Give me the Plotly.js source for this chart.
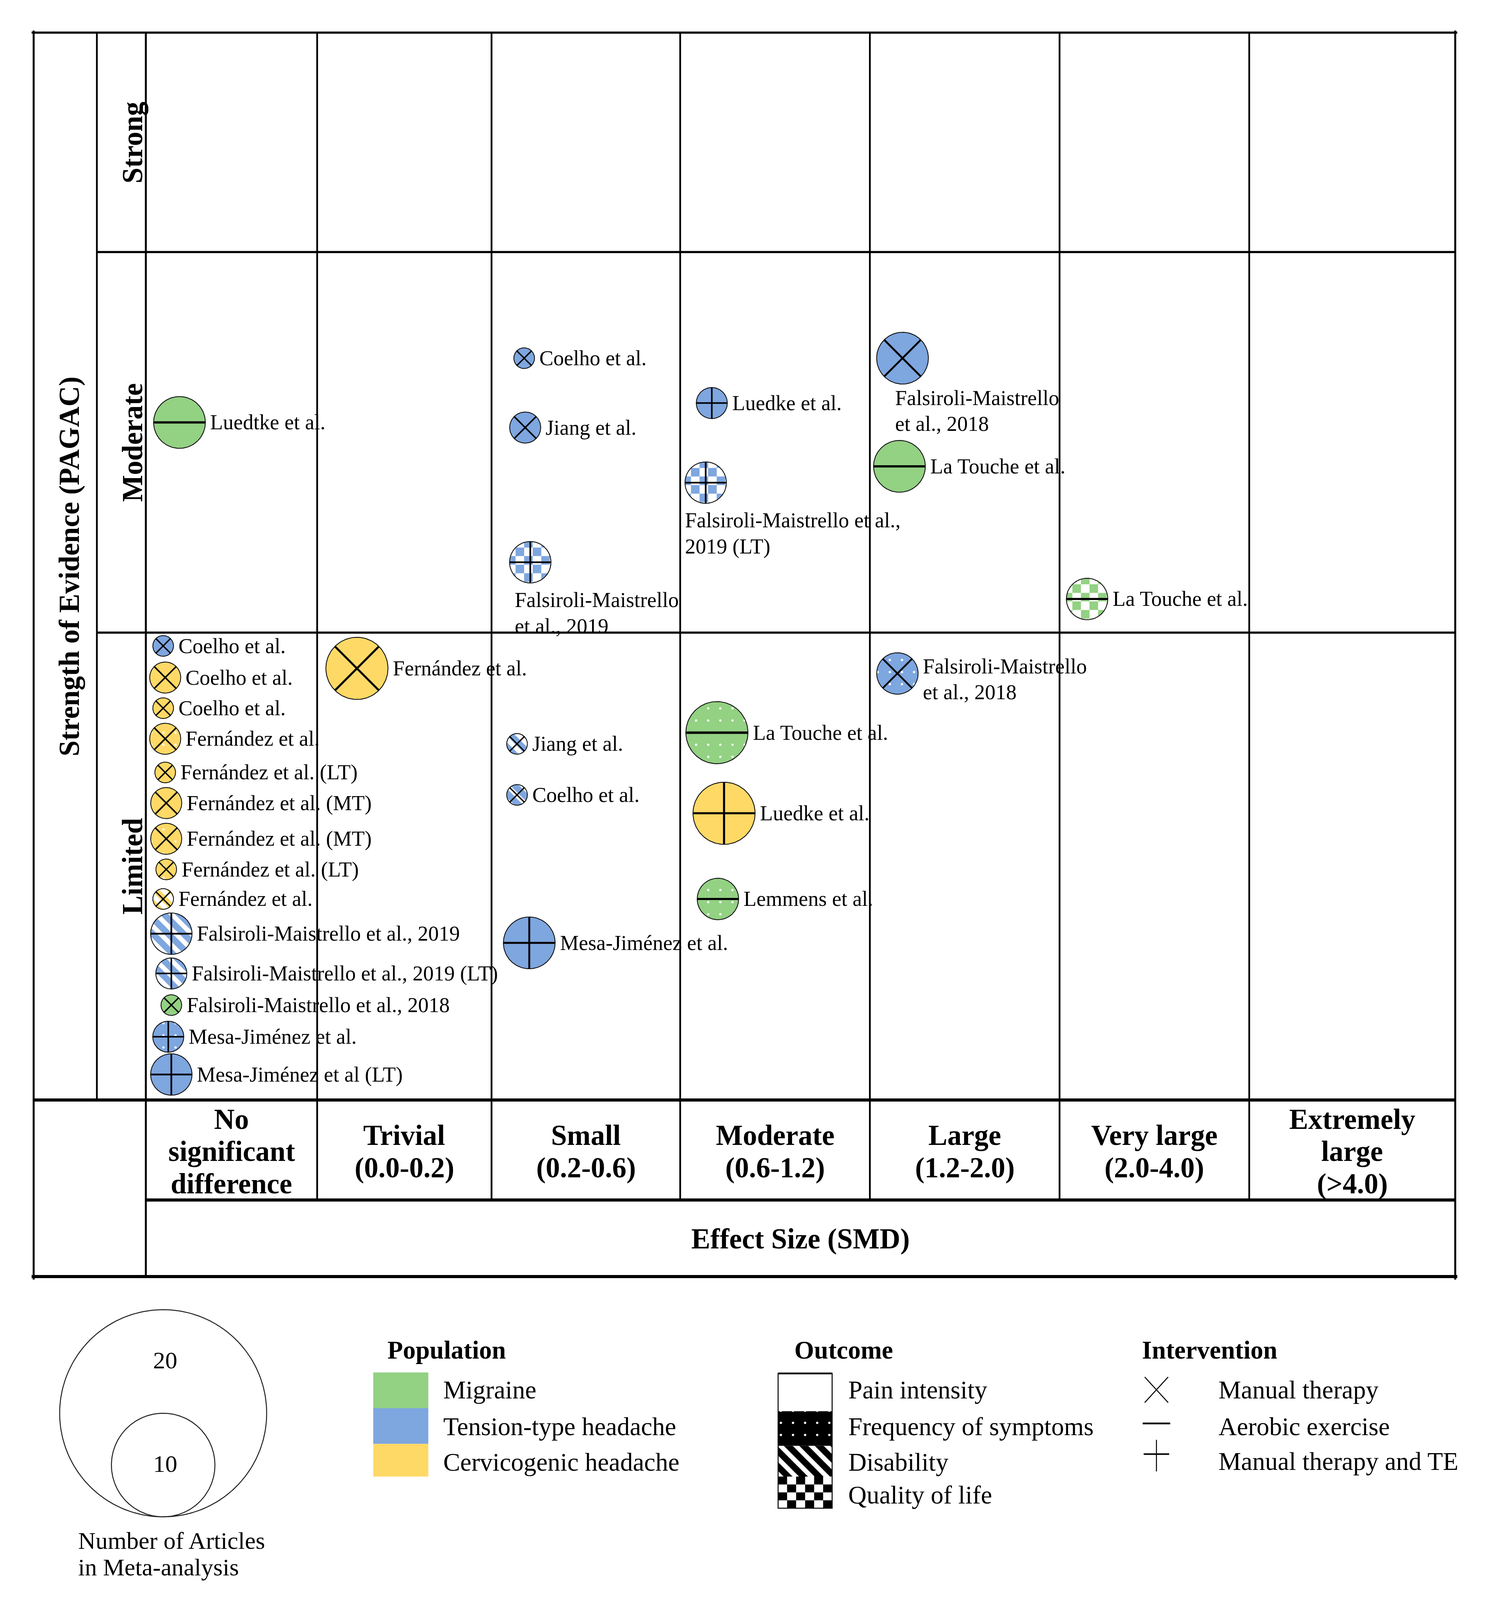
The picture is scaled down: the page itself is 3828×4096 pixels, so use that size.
<!DOCTYPE html>
<html><head><meta charset="utf-8">
<script src="https://cdn.plot.ly/plotly-3.0.1.min.js"></script>
<style>html,body{margin:0;padding:0;background:#fff;}#chart{width:3828px;height:4096px;}</style>
</head><body><div id="chart"></div>
<script>
// ================= DATA =================
const effectTickLabels = ['No\nsignificant\ndifference','Trivial\n(0.0-0.2)','Small\n(0.2-0.6)','Moderate\n(0.6-1.2)','Large\n(1.2-2.0)','Very large\n(2.0-4.0)','Extremely\nlarge\n(>4.0)'];
const evidenceLevels = ['Strong','Moderate','Limited'];
const populations = ['Migraine','Tension-type headache','Cervicogenic headache'];
const outcomes = ['Pain intensity','Frequency of symptoms','Disability','Quality of life'];
const interventions = ['Manual therapy','Aerobic exercise','Manual therapy and TE'];
const sizeLegendValues = [20, 10];

const studyNames = [
  'Luedtke et al.','Coelho et al.','Jiang et al.','Falsiroli-Maistrello\net al., 2019','Luedke et al.',
  'Falsiroli-Maistrello et al.,\n2019 (LT)','Falsiroli-Maistrello\net al., 2018','La Touche et al.','La Touche et al.',
  'Coelho et al.','Coelho et al.','Coelho et al.','Fernández et al.','Fernández et al. (LT)','Fernández et al. (MT)',
  'Fernández et al. (MT)','Fernández et al. (LT)','Fernández et al.','Falsiroli-Maistrello et al., 2019',
  'Falsiroli-Maistrello et al., 2019 (LT)','Falsiroli-Maistrello et al., 2018','Mesa-Jiménez et al.','Mesa-Jiménez et al (LT)',
  'Fernández et al.','Jiang et al.','Coelho et al.','Mesa-Jiménez et al.','La Touche et al.','Luedke et al.','Lemmens et al.',
  'Falsiroli-Maistrello\net al., 2018'
];
// index into effectTickLabels
const studyEffect = [0,2,2,2,3,3,4,4,5, 0,0,0,0,0,0,0,0,0,0,0,0,0,0, 1, 2,2,2, 3,3,3, 4];
const studyEvidence = ['Moderate','Moderate','Moderate','Moderate','Moderate','Moderate','Moderate','Moderate','Moderate',
  'Limited','Limited','Limited','Limited','Limited','Limited','Limited','Limited','Limited','Limited','Limited','Limited','Limited','Limited',
  'Limited','Limited','Limited','Limited','Limited','Limited','Limited','Limited'];
const studyArticles = [5,2,3,4,3,4,5,5,4, 2,3,2,3,2,3,3,2,2,4,3,2,3,4, 6, 2,2,5, 6,6,4, 4];
// 0 Migraine, 1 Tension-type, 2 Cervicogenic
const studyPopulation = [0,1,1,1,1,1,1,0,0, 1,2,2,2,2,2,2,2,2,1,1,0,1,1, 2, 1,1,1, 0,2,0, 1];
// 0 Pain, 1 Frequency, 2 Disability, 3 Quality of life
const studyOutcome = [0,0,0,3,0,3,0,0,3, 0,0,1,1,0,0,1,1,2,2,2,0,1,0, 0, 2,2,0, 1,0,1, 1];
// 0 Manual therapy, 1 Aerobic exercise, 2 Manual therapy and TE
const studyIntervention = [1,0,0,2,2,2,0,1,1, 0,0,0,0,0,0,0,0,0,2,2,0,2,2, 0, 0,0,2, 1,2,1, 0];

// ================= LAYOUT (diagram geometry, in 1466x1568 units) =================
const colEdges = [143,311,482,667,853,1039,1225,1427];
const rowEdges = [32,247,620,1078];
const placeDx = [33,32,33,38,31,25,32,29,27, 17,19,17,19,19,20,20,20,17,25,25,25,22,25, 39, 25,25,37, 36,43,37, 27];
const placeDy = [167,104,172,304,148,226,104,210,340, 13,44,74,104,137,167,202,232,261,295,334,365,396,433, 35, 109,159,304, 98,177,261, 40];
const labelOffset = {3:[-16,37], 5:[-21,37], 6:[-8,39], 30:[24,-7]};

const popColors = ['#93D183','#7EA6DF','#FFD966'];
const FONT = 'Liberation Serif, Times New Roman, serif';
const K = 10.15;               // diameter per article
const radius = n => K*n/2;
const CELL = 8.4;              // checker cell

const traces = [], shapes = [], annotations = [];

function circle(cx, cy, r, N){ N=N||120; const xs=[],ys=[]; for(let i=0;i<=N;i++){const a=2*Math.PI*i/N; xs.push(cx+r*Math.cos(a)); ys.push(cy+r*Math.sin(a));} return {x:xs,y:ys}; }
function text(t, x, y, size, o){ o=o||{}; annotations.push({x, y, xref:'x', yref:'y', text:t, showarrow:false,
  xanchor:o.xanchor||'left', yanchor:'middle', textangle:o.angle||0, font:{family:FONT, size, color:'#000', weight:o.bold?700:400}}); }
function lines(t, x, y, size, gap, o){ t.split('\n').forEach((s,k)=>text(s, x, y+k*gap, size, o)); }
function pattern(oi, bg, fg){
  if(oi===1) return {shape:'.', bgcolor:bg, fgcolor:fg, size:31, solidity:0.028, fillmode:'replace'};
  if(oi===2) return {shape:'\\', bgcolor:bg, fgcolor:fg, size:28, solidity:0.42, fillmode:'replace'};
  return undefined;
}
function checkerCells(x0, y0, nx, ny, cw, ch){
  const xs=[], ys=[];
  for(let i=0;i<nx;i++) for(let j=0;j<ny;j++){ if((i+j)%2) continue;
    const a=x0+i*cw, b=y0+j*ch; xs.push(a,a+cw,a+cw,a,a,null); ys.push(b,b,b+ch,b+ch,b,null); }
  return {x:xs, y:ys};
}
function fillTrace(pts, color, pat, lw){
  const t = {type:'scatter', mode:'lines', x:pts.x, y:pts.y, fill:'toself', fillcolor:color,
    line:{color:'#111', width:lw||0}, hoverinfo:'skip'};
  if(pat) t.fillpattern = pat;
  traces.push(t);
}

// bubble geometry
const bub = studyNames.map((n,i)=>({
  cx: colEdges[studyEffect[i]] + placeDx[i],
  cy: rowEdges[evidenceLevels.indexOf(studyEvidence[i])] + placeDy[i],
  r: radius(studyArticles[i])
}));

// Phase 1: checker (quality of life) bubbles
bub.forEach((b,i)=>{
  if(studyOutcome[i]!==3) return;
  fillTrace(circle(b.cx,b.cy,b.r), '#ffffff');
  const n = Math.ceil(2*b.r/CELL)+1;
  fillTrace(checkerCells(b.cx-b.r-CELL*0.3, b.cy-b.r-CELL*0.3, n, n, CELL, CELL), popColors[studyPopulation[i]]);
  // white mask ring
  const R2 = b.r + CELL*1.6, xs=[], ys=[];
  xs.push(b.cx+R2,b.cx+R2,b.cx-R2,b.cx-R2,b.cx+R2,b.cx+R2); ys.push(b.cy,b.cy+R2,b.cy+R2,b.cy-R2,b.cy-R2,b.cy);
  for(let k=0;k<=120;k++){const a=-2*Math.PI*k/120; xs.push(b.cx+b.r*Math.cos(a)); ys.push(b.cy+b.r*Math.sin(a));}
  xs.push(b.cx+R2); ys.push(b.cy);
  fillTrace({x:xs,y:ys}, '#ffffff');
});

// Phase 2: all bubbles
bub.forEach((b,i)=>{
  const col = popColors[studyPopulation[i]], oi = studyOutcome[i], pts = circle(b.cx,b.cy,b.r);
  if(oi===3){
    traces.push({type:'scatter', mode:'lines', x:pts.x, y:pts.y, line:{color:'#111', width:2.2}, hoverinfo:'skip'});
  } else {
    fillTrace(pts, col, pattern(oi, col, '#ffffff'), 2.2);
  }
  const iv = studyIntervention[i], n = studyArticles[i];
  let lx, ly, w;
  if(iv===0){ const d=b.r/Math.SQRT2; lx=[b.cx-d,b.cx+d,null,b.cx-d,b.cx+d]; ly=[b.cy-d,b.cy+d,null,b.cy+d,b.cy-d]; w=2.6+0.45*n; }
  else if(iv===1){ lx=[b.cx-b.r,b.cx+b.r]; ly=[b.cy,b.cy]; w=4+0.35*n; }
  else { lx=[b.cx-b.r,b.cx+b.r,null,b.cx,b.cx]; ly=[b.cy,b.cy,null,b.cy-b.r,b.cy+b.r]; w=2.6+0.45*n; }
  traces.push({type:'scatter', mode:'lines', x:lx, y:ly, line:{color:'#000', width:w}, hoverinfo:'skip'});
  // label
  const off = labelOffset[i];
  if(off) lines(studyNames[i], b.cx+off[0], b.cy+off[1], 54, 25.5);
  else text(studyNames[i], b.cx+b.r+4, b.cy, 54);
});

// ================= GRID =================
function hl(y,x0,x1,w){ shapes.push({type:'line',xref:'x',yref:'y',x0,x1,y0:y,y1:y,line:{color:'#000',width:w}}); }
function vl(x,y0,y1,w){ shapes.push({type:'line',xref:'x',yref:'y',x0:x,x1:x,y0,y1,line:{color:'#000',width:w}}); }
hl(32,31,1429,5.5); hl(1251,31,1429,8); vl(33,30,1254,5); vl(1427,30,1254,5);
vl(95,32,1078,4.5); vl(143,32,1251,5);
for(let c=1;c<colEdges.length-1;c++) vl(colEdges[c],32,1176,4.5);
hl(rowEdges[1],95,1427,5.5); hl(rowEdges[2],95,1427,5.5); hl(rowEdges[3],33,1427,8); hl(1176,143,1427,8);

// headers
effectTickLabels.forEach((t,c)=>{
  const ls=t.split('\n'), cx=(colEdges[c]+colEdges[c+1])/2, gap=31.5;
  ls.forEach((s,k)=>text(s, cx, 1128.5+(k-(ls.length-1)/2)*gap, 73, {bold:true, xanchor:'center'}));
});
text('Effect Size (SMD)', (colEdges[0]+colEdges[7])/2, 1214, 73, {bold:true, xanchor:'center'});
evidenceLevels.forEach((t,r)=>text(t, 130, (rowEdges[r]+rowEdges[r+1])/2, 73, {bold:true, xanchor:'center', angle:-90}));
text('Strength of Evidence (PAGAC)', 68, (rowEdges[0]+rowEdges[3])/2, 73, {bold:true, xanchor:'center', angle:-90});

// ================= LEGENDS =================
// size legend
const sizeBottom = 1486.5;
sizeLegendValues.forEach(v=>{
  const r = radius(v);
  traces.push({type:'scatter', mode:'lines', ...circle(160, sizeBottom-r, r, 200), line:{color:'#222', width:2.5}, hoverinfo:'skip'});
  text(String(v), 162, sizeBottom-2*r+49.5, 62, {xanchor:'center'});
});
text('Number of Articles', 76, 1510, 62);
text('in Meta-analysis', 76, 1536, 62);

// population
text('Population', 379, 1323, 65, {bold:true});
const popTops = [1345,1380,1415,1447];
populations.forEach((p,k)=>{
  shapes.push({type:'rect',xref:'x',yref:'y',x0:366,x1:420,y0:popTops[k],y1:popTops[k+1],fillcolor:popColors[k],line:{width:0}});
  text(p, 434, [1362,1398,1433][k], 65);
});

// outcome
text('Outcome', 778, 1323, 65, {bold:true});
const outTops = [1346,1383,1417,1447,1478], outLabelY = [1362,1398,1433,1465];
const rect = (x0,y0,x1,y1)=>({x:[x0,x1,x1,x0,x0], y:[y0,y0,y1,y1,y0]});
outcomes.forEach((o,k)=>{
  const y0=outTops[k], y1=outTops[k+1];
  if(k===0) fillTrace(rect(763,y0,816,y1), '#ffffff');
  else if(k<3) fillTrace(rect(763,y0,816,y1), '#000000', pattern(k,'#000000','#ffffff'));
  else { fillTrace(rect(763,y0,816,y1), '#ffffff'); fillTrace(checkerCells(763,y0,6,4,53/6,(y1-y0)/4), '#000000'); }
  text(o, 831, outLabelY[k], 65);
});
shapes.push({type:'rect',xref:'x',yref:'y',x0:763,x1:816,y0:1346,y1:1478,line:{color:'#000',width:2.5}});
hl(1346,763,816,4.5);

// intervention
text('Intervention', 1119, 1323, 65, {bold:true});
const ivY = [1362,1395,1426], ivLabelY = [1362,1398,1432], gx = 1134;
traces.push({type:'scatter',mode:'lines',x:[gx-11.5,gx+11.5,null,gx-11.5,gx+11.5],y:[ivY[0]-12.5,ivY[0]+12.5,null,ivY[0]+12.5,ivY[0]-12.5],line:{color:'#000',width:2.5},hoverinfo:'skip'});
traces.push({type:'scatter',mode:'lines',x:[gx-13.5,gx+13.5],y:[ivY[1],ivY[1]],line:{color:'#000',width:4.5},hoverinfo:'skip'});
traces.push({type:'scatter',mode:'lines',x:[gx,gx],y:[ivY[2]-15,ivY[2]+16],line:{color:'#000',width:2.5},hoverinfo:'skip'});
traces.push({type:'scatter',mode:'lines',x:[gx-12.5,gx+12.5],y:[ivY[2]-1,ivY[2]-1],line:{color:'#000',width:4},hoverinfo:'skip'});
interventions.forEach((t,k)=>text(t, 1194, ivLabelY[k], 65));

const layout = {
  width:3828, height:4096, margin:{l:0,r:0,t:0,b:0,pad:0},
  paper_bgcolor:'#ffffff', plot_bgcolor:'#ffffff', showlegend:false, hovermode:false,
  font:{family:FONT, color:'#000'},
  xaxis:{range:[0,1466], visible:false, fixedrange:true},
  yaxis:{range:[1568,0], visible:false, fixedrange:true},
  shapes, annotations
};
Plotly.newPlot('chart', traces, layout, {staticPlot:true, displayModeBar:false});
</script></body></html>
